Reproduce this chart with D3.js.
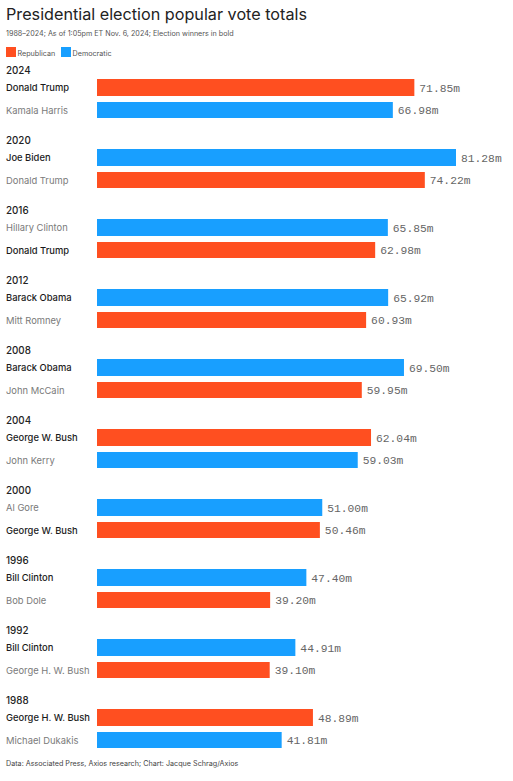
<!DOCTYPE html>
<head>
  <meta charset="utf-8">
  <script src="https://cdn.jsdelivr.net/npm/d3@7"></script>
  <style>
    body { margin:0; background:#fff; }
    text { font-family: Inter, "Noto Sans", sans-serif; }
    .val { font-family: "Liberation Mono", "DejaVu Sans Mono", monospace; }
  </style>
</head>
<body>
<script>
var width = 513, height = 781;

var years = ["2024","2020","2016","2012","2008","2004","2000","1996","1992","1988"];
var firstNames = ["Donald Trump","Joe Biden","Hillary Clinton","Barack Obama","Barack Obama","George W. Bush","Al Gore","Bill Clinton","Bill Clinton","George H. W. Bush"];
var firstParty = ["R","D","D","D","D","R","D","D","D","R"];
var firstVotes = [71.85,81.28,65.85,65.92,69.50,62.04,51.00,47.40,44.91,48.89];
var firstWon = [true,true,false,true,true,true,false,true,true,true];
var secondNames = ["Kamala Harris","Donald Trump","Donald Trump","Mitt Romney","John McCain","John Kerry","George W. Bush","Bob Dole","George H. W. Bush","Michael Dukakis"];
var secondParty = ["D","R","R","R","R","D","R","R","R","D"];
var secondVotes = [66.98,74.22,62.98,60.93,59.95,59.03,50.46,39.20,39.10,41.81];
var secondWon = [false,false,true,false,false,false,true,false,false,false];

var colors = {R: "#ff4f20", D: "#189fff"};

var svg = d3.select("body").append("svg")
  .attr("width", width).attr("height", height);

svg.append("text").attr("x", 6).attr("y", 20)
  .attr("font-size", 16.2).attr("fill", "#222")
  .text("Presidential election popular vote totals");
svg.append("text").attr("x", 6).attr("y", 36)
  .attr("font-size", 7.2).attr("fill", "#555")
  .text("1988\u20132024; As of 1:05pm ET Nov. 6, 2024; Election winners in bold");

var legend = [["R","Republican",6],["D","Democratic",61]];
legend.forEach(function(l) {
  svg.append("rect").attr("x", l[2]).attr("y", 47).attr("width", 10).attr("height", 10).attr("fill", colors[l[0]]);
  svg.append("text").attr("x", l[2] + 11.5).attr("y", 55.5).attr("font-size", 7.2).attr("fill", "#555").text(l[1]);
});

var x = d3.scaleLinear().domain([0, 81.28]).range([97, 456]);
var y = d3.scaleBand().domain(years).range([60, 760]);

var groups = svg.selectAll("g.year").data(years).enter().append("g")
  .attr("class", "year")
  .attr("transform", function(d) { return "translate(0," + y(d) + ")"; });

groups.append("text").attr("x", 6).attr("y", 14).attr("font-size", 9.8)
  .attr("font-weight", 500).attr("fill", "#222").text(function(d) { return d; });

function row(names, party, votes, won, top, h) {
  groups.append("rect")
    .attr("x", x(0)).attr("y", top).attr("height", h)
    .attr("width", function(d, i) { return x(votes[i]) - x(0); })
    .attr("fill", function(d, i) { return colors[party[i]]; });
  groups.append("text").attr("x", 6).attr("y", top + h / 2 + 3.5)
    .attr("font-size", 9.4)
    .attr("font-weight", function(d, i) { return won[i] ? 500 : 400; })
    .attr("fill", function(d, i) { return won[i] ? "#1a1a1a" : "#7a7a7a"; })
    .text(function(d, i) { return names[i]; });
  groups.append("text").attr("class", "val")
    .attr("x", function(d, i) { return x(votes[i]) + 5; })
    .attr("y", top + h / 2 + 4)
    .attr("font-size", 11.3).attr("fill", "#666")
    .text(function(d, i) { return votes[i].toFixed(2) + "m"; });
}
row(firstNames, firstParty, firstVotes, firstWon, 19, 17);
row(secondNames, secondParty, secondVotes, secondWon, 42, 16);

svg.append("text").attr("x", 6).attr("y", 766).attr("font-size", 7.2).attr("fill", "#444")
  .text("Data: Associated Press, Axios research; Chart: Jacque Schrag/Axios");
</script>
</body>
